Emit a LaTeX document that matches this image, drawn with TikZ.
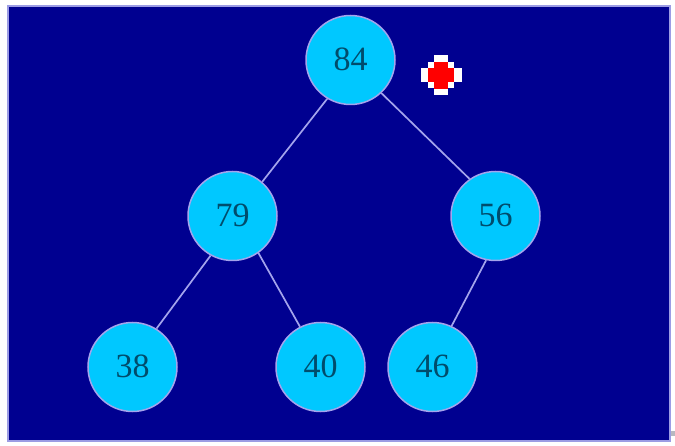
\documentclass[tikz,border=0pt]{standalone}
\usepackage{fontspec}
\setmainfont{Liberation Serif}
\definecolor{bgnavy}{HTML}{000090}
\definecolor{rimblue}{HTML}{9C9CE4}
\definecolor{edgeblue}{HTML}{A4A4EC}
\definecolor{nodecyan}{HTML}{00C8FF}
\definecolor{numteal}{HTML}{004C6C}
\definecolor{smudge}{HTML}{B8B8C0}
\tikzset{
  heapnode/.style={circle,draw=edgeblue,line width=1.5pt,fill=nodecyan,text=numteal,
    minimum size=89pt,inner sep=0pt,font=\fontsize{34}{34}\selectfont},
  heapnum/.style={text=numteal,inner sep=0pt,font=\fontsize{34}{34}\selectfont},
  heapedge/.style={draw=edgeblue,line width=1.7pt},
  pix/.style={fill=white,draw=none},
  pixred/.style={fill=red,draw=none}
}
\begin{document}
\begin{tikzpicture}[x=1pt,y=-1pt]
\useasboundingbox (0,0) rectangle (675,446);
\fill[white] (0,0) rectangle (675,446);
\draw[rimblue,line width=1.2pt,fill=bgnavy] (8,6) rectangle (670,441);
\fill[smudge] (671,431) rectangle (675,436);
\node[heapnode] (n84) at (350.5,60) {\raisebox{1.5pt}{84}};
\node[heapnode] (n79) at (232.5,216) {\raisebox{1.5pt}{79}};
\node[heapnode] (n56) at (495.5,216) {\raisebox{1.5pt}{56}};
\node[heapnode] (n38) at (132.5,367) {\raisebox{1.5pt}{38}};
\node[heapnode] (n40) at (320.5,367) {\raisebox{1.5pt}{40}};
\node[heapnode] (n46) at (432.5,367) {\raisebox{1.5pt}{46}};
\draw[heapedge] (n84.239) -- (n79.49);
\draw[heapedge] (n84.-47) -- (n56.125);
\draw[heapedge] (n79.241) -- (n38.58);
\draw[heapedge] (n79.-55) -- (n40.117);
\draw[heapedge] (n56.258) -- (n46.65);
\fill[pix] (434,55) rectangle (448,95);
\fill[pix] (428,62) rectangle (454,88);
\fill[pix] (421,68) rectangle (462,82);
\fill[pixred] (434,62) rectangle (448,89);
\fill[pixred] (428,68) rectangle (454,82);
\end{tikzpicture}
\end{document}
